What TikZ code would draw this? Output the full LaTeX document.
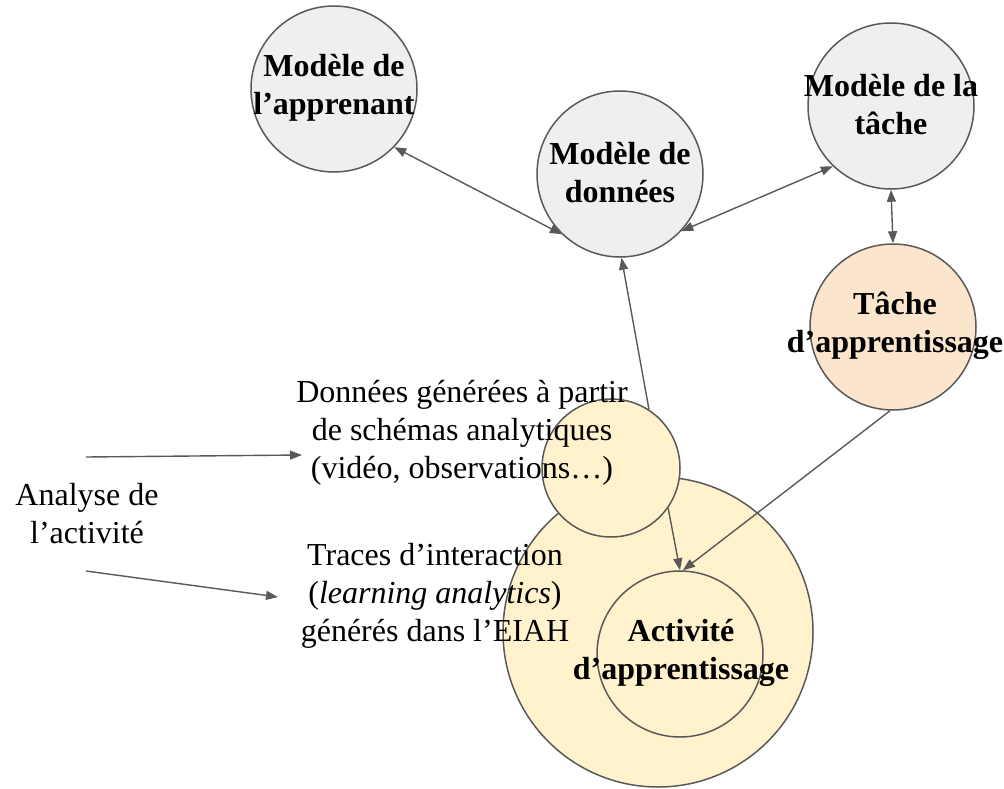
\documentclass[tikz,border=0pt]{standalone}
\usepackage{fontspec}
\setmainfont{Liberation Serif}
\usepackage{tikz}
\usetikzlibrary{arrows.meta}
\usepackage{xcolor}
\definecolor{ColGrey}{RGB}{239,239,239}
\definecolor{ColLine}{RGB}{89,89,89}
\definecolor{ColPeach}{RGB}{252,229,205}
\definecolor{ColCream}{RGB}{255,242,204}
\tikzstyle{NodeModel}=[circle,draw=ColLine,fill=ColGrey,line width=1.5pt,inner sep=0pt,
minimum size=166pt]
\tikzstyle{NodeTask}=[NodeModel,fill=ColPeach]
\tikzstyle{NodeActivity}=[NodeModel,fill=ColCream]
\tikzstyle{TextBold}=[align=center,inner sep=0pt,font=\fontsize{32}{38}\selectfont\bfseries]
\tikzstyle{TextPlain}=[align=center,inner sep=0pt,font=\fontsize{32}{38}\selectfont]
\tikzstyle{EdgeArrow}=[ColLine,line width=1.4pt,-{Triangle[length=12pt,width=9pt]}]
\tikzstyle{EdgeBoth}=[ColLine,line width=1.4pt,
{Triangle[length=12pt,width=9pt]}-{Triangle[length=12pt,width=9pt]}]

\begin{document}
\begin{tikzpicture}[x=1pt,y=-1pt]
        \useasboundingbox (0,0) rectangle (1004,789);
        % models
        \node[NodeModel](app)at(334,89){};
        \node[NodeModel](don)at(620,174){};
        \node[NodeModel](mtache)at(891,106){};
        \node[NodeTask](tapp)at(893,327){};
        % activity
        \node[NodeActivity,minimum size=310pt](big)at(658,632){};
        \node[NodeActivity](act)at(680,654){};
        \node[NodeActivity,minimum size=138pt](sm)at(611,468){};
        % texts
        \node[TextBold](app-t)at(334,88){Modèle de\\l’apprenant};
        \node[TextBold](don-t)at(620,173){Modèle de\\données};
        \node[TextBold](mtache-t)at(891,105){Modèle de la\\tâche};
        \node[TextBold](tapp-t)at(895,326){Tâche\\d’apprentissage};
        \node[TextBold](act-t)at(681,653){Activité\\d’apprentissage};
        \node[TextPlain](ana)at(87,514){Analyse de\\l’activité};
        \node[TextPlain](gen)at(462,433){Données générées à partir\\de schémas analytiques\\(vidéo, observations…)};
        \node[TextPlain](tra)at(435,596){Traces d’interaction\\(\textit{learning analytics})\\générés dans l’EIAH};
        \coordinate(a1)at(86,457);
        \coordinate(a2)at(302,455);
        \coordinate(b1)at(86,571);
        \coordinate(b2)at(278,597);
        % connectors
        \draw[EdgeBoth](app.-44)--(don.226);
        \draw[EdgeBoth](don.-43)--(mtache.226);
        \draw[EdgeBoth](mtache.south)--(tapp.north);
        \draw[EdgeArrow](sm.57)--(don.-89);
        \draw[EdgeArrow](sm.-35)--(act.north);
        \draw[EdgeArrow](tapp.-92)--(act.88);
        \draw[EdgeArrow](a1)--(a2);
        \draw[EdgeArrow](b1)--(b2);
    \end{tikzpicture}
\end{document}
